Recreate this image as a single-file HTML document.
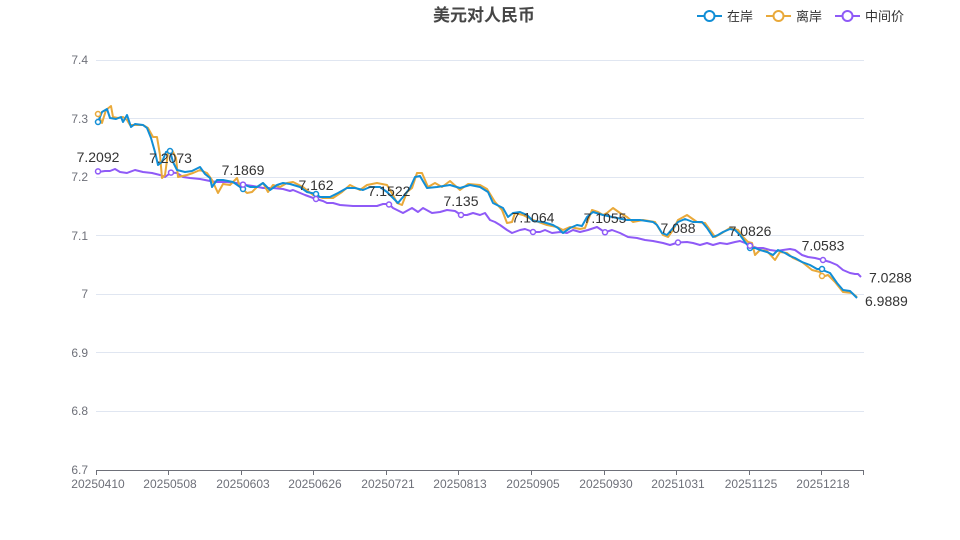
<!DOCTYPE html>
<html><head><meta charset="utf-8">
<style>
html,body{margin:0;padding:0;background:#fff;}
svg{display:block;}
text{font-family:"Liberation Sans","Noto Sans CJK SC",sans-serif;}
</style></head>
<body>
<svg width="960" height="540" viewBox="0 0 960 540" xmlns="http://www.w3.org/2000/svg">
<!-- title -->
<text x="484" y="21" text-anchor="middle" font-size="17" font-weight="bold" fill="#464646">美元对人民币</text>
<!-- legend -->
<g stroke-width="2" fill="#fff">
<line x1="697" y1="16" x2="722" y2="16" stroke="#118ed6"/><circle cx="709.5" cy="16" r="5" stroke="#118ed6"/>
<line x1="766" y1="16" x2="791" y2="16" stroke="#e9a93a"/><circle cx="778.5" cy="16" r="5" stroke="#e9a93a"/>
<line x1="835" y1="16" x2="860" y2="16" stroke="#8f5af7"/><circle cx="847.5" cy="16" r="5" stroke="#8f5af7"/>
</g>
<g font-size="13" fill="#333">
<text x="727" y="21">在岸</text>
<text x="796" y="21">离岸</text>
<text x="865" y="21">中间价</text>
</g>
<!-- grid -->
<g stroke="#e0e6f1" stroke-width="1">
<line x1="96" y1="60.5" x2="864" y2="60.5"/>
<line x1="96" y1="118.5" x2="864" y2="118.5"/>
<line x1="96" y1="177.5" x2="864" y2="177.5"/>
<line x1="96" y1="235.5" x2="864" y2="235.5"/>
<line x1="96" y1="294.5" x2="864" y2="294.5"/>
<line x1="96" y1="352.5" x2="864" y2="352.5"/>
<line x1="96" y1="411.5" x2="864" y2="411.5"/>
</g>
<line x1="96" y1="470.5" x2="864" y2="470.5" stroke="#6e7079" stroke-width="1"/>
<g stroke="#6e7079" stroke-width="1">
<line x1="96.5" y1="470" x2="96.5" y2="475"/>
<line x1="168.5" y1="470" x2="168.5" y2="475"/>
<line x1="241.5" y1="470" x2="241.5" y2="475"/>
<line x1="313.5" y1="470" x2="313.5" y2="475"/>
<line x1="386.5" y1="470" x2="386.5" y2="475"/>
<line x1="458.5" y1="470" x2="458.5" y2="475"/>
<line x1="531.5" y1="470" x2="531.5" y2="475"/>
<line x1="604.5" y1="470" x2="604.5" y2="475"/>
<line x1="676.5" y1="470" x2="676.5" y2="475"/>
<line x1="749.5" y1="470" x2="749.5" y2="475"/>
<line x1="821.5" y1="470" x2="821.5" y2="475"/>
<line x1="863.5" y1="470" x2="863.5" y2="475"/>
</g>
<!-- y labels -->
<g font-size="12" fill="#6e7079" text-anchor="end">
<text x="88" y="64">7.4</text>
<text x="88" y="123">7.3</text>
<text x="88" y="181">7.2</text>
<text x="88" y="240">7.1</text>
<text x="88" y="298">7</text>
<text x="88" y="357">6.9</text>
<text x="88" y="415">6.8</text>
<text x="88" y="474">6.7</text>
</g>
<!-- x labels -->
<g font-size="12" fill="#6e7079" text-anchor="middle">
<text x="98" y="488">20250410</text>
<text x="170" y="488">20250508</text>
<text x="243" y="488">20250603</text>
<text x="315" y="488">20250626</text>
<text x="388" y="488">20250721</text>
<text x="460" y="488">20250813</text>
<text x="533" y="488">20250905</text>
<text x="606" y="488">20250930</text>
<text x="678" y="488">20251031</text>
<text x="751" y="488">20251125</text>
<text x="823" y="488">20251218</text>
</g>
<!-- series -->
<g fill="none" stroke-width="2" stroke-linejoin="round">
<polyline stroke="#8f5af7" points="98,172 105,171 110,171 115,169 120,172 127,173 135,170 143,172 152,173 160,175 165,177 171,172.6 177,173 183,177 190,178 200,179 210,181 217,182 227,182 237,183 243,184.6 253,186 263,188 273,188 283,189 290,191 293,190 305,195 316,199 323,201 327,203 333,203 340,205 353,206 367,206 377,206 383,204 389,204 393,208 403,213 412,208 418,212 423,208 432,213 440,212 447,210 455,211 461,215 467,215 473,213 480,215 485,213 490,220 495,222 500,225 507,230 512,233 520,230 525,229 533,232 540,232 545,230 552,233 560,232 567,233 573,230 580,232 588,230 597,227 605,232.3 612,230 620,233 628,237 637,238 645,240 653,241 663,243 670,245 678,242.5 687,242 693,243 700,245 707,243 713,245 720,243 727,244 735,242 740,241 745,243 750,245.7 757,248 763,248 770,250 777,251 783,250 790,249 795,250 802,255 808,257 815,258 823,260 830,262 837,265 843,270 850,273 855,274 858,274 861,277"/>
<polyline stroke="#e9a93a" points="98,114 102,123 106,110 111,106 113,117 118,118 123,117 127,120 130,125 135,125 143,125 148,128 153,137 157,137 160,155 162,178 165,175 168,153 172,150 176,158 178,177 187,175 193,173 200,170 207,173 212,180 218,193 223,184 230,185 233,182 237,178 240,187 247,193 252,192 257,187 263,183 268,192 273,185 280,187 287,183 293,182 303,187 313,195 323,198 333,198 342,192 350,185 360,190 367,185 377,183 387,185 393,195 397,203 402,205 407,192 412,188 417,173 422,173 428,187 435,183 442,187 450,181 460,190 468,184 480,185 487,189 495,202 502,210 507,223 512,222 515,213 523,215 533,220 547,225 557,227 563,230 570,227 580,229 585,228 592,210 598,212 603,215 607,213 613,208 620,213 627,217 633,222 643,220 655,222 658,227 663,235 668,237 673,230 678,220 687,215 697,222 705,223 710,230 715,237 722,233 730,228 738,230 743,237 748,242 752,243 755,255 760,250 767,251 775,260 780,252 787,253 793,258 802,262 812,270 820,272 822,277 828,275 835,282 843,292 852,293 857,297"/>
<polyline stroke="#118ed6" points="98,122 102,112 107,109 110,118 116,119 121,117 123,122 127,115 131,127 135,124 143,125 147,128 151,138 155,152 158,165 162,162 166,152 170,151 173,162 177,170 185,172 192,171 200,167 205,174 210,178 212,187 217,180 223,180 233,182 243,189 245,185 250,187 257,187 263,183 270,190 277,185 283,183 290,184 300,187 307,192 316,194 320,197 330,197 338,193 347,188 355,188 363,190 370,187 380,187 387,192 393,198 398,203 403,197 410,188 415,177 420,176 427,188 437,187 450,185 460,188 470,185 480,187 488,192 493,203 503,208 508,217 513,213 520,212 527,215 533,221 543,222 553,225 558,228 563,233 570,228 577,225 582,226 587,217 593,212 603,215 617,218 627,220 640,220 653,222 657,225 662,233 667,235 673,228 678,222 685,219 693,222 702,222 707,228 713,237 718,235 723,232 730,229 735,230 740,235 745,242 750,248 755,248 760,250 767,252 773,255 778,250 785,253 790,256 795,258 802,262 810,265 817,269 822,269 825,271 830,273 837,283 843,290 850,291 857,298"/>
</g>
<!-- markers -->
<g fill="#fff" stroke-width="1.5">
<g stroke="#118ed6">
<circle cx="98" cy="122" r="2.5"/><circle cx="170" cy="151" r="2.5"/><circle cx="243" cy="189" r="2.5"/><circle cx="316" cy="194" r="2.5"/><circle cx="750" cy="248" r="2.5"/><circle cx="822" cy="269" r="2.5"/>
</g>
<g stroke="#e9a93a">
<circle cx="98" cy="114" r="2.5"/><circle cx="822" cy="276" r="2.5"/>
</g>
<g stroke="#8f5af7">
<circle cx="98" cy="171.4" r="2.5"/><circle cx="171" cy="172.6" r="2.5"/><circle cx="243" cy="184.6" r="2.5"/><circle cx="316" cy="199" r="2.5"/><circle cx="389" cy="204.5" r="2.5"/><circle cx="461" cy="215" r="2.5"/><circle cx="533" cy="232" r="2.5"/><circle cx="605" cy="232.3" r="2.5"/><circle cx="678" cy="242.5" r="2.5"/><circle cx="750" cy="245.7" r="2.5"/><circle cx="823" cy="260" r="2.5"/>
</g>
</g>
<!-- point labels -->
<g font-size="14" fill="#333" text-anchor="middle">
<text x="98" y="162">7.2092</text>
<text x="170.5" y="163">7.2073</text>
<text x="243" y="175">7.1869</text>
<text x="316" y="190">7.162</text>
<text x="389" y="196">7.1522</text>
<text x="461" y="206">7.135</text>
<text x="533" y="222.5">7.1064</text>
<text x="605" y="223">7.1055</text>
<text x="678" y="233">7.088</text>
<text x="750" y="236">7.0826</text>
<text x="823" y="250.5">7.0583</text>
</g>
<g font-size="14" fill="#333">
<text x="869" y="282.5">7.0288</text>
<text x="865" y="306">6.9889</text>
</g>
</svg>
</body></html>
